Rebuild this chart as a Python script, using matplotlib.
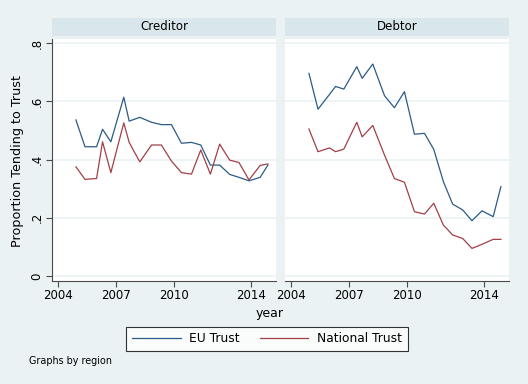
import matplotlib
matplotlib.use('Agg')
import matplotlib.pyplot as plt
from matplotlib.lines import Line2D

# survey dates (fractional year), shared by both regions
years = [2004.93, 2005.40, 2006.00, 2006.31, 2006.74, 2007.41, 2007.69, 2008.24,
         2008.85, 2009.36, 2009.88, 2010.40, 2010.92, 2011.40, 2011.90, 2012.38,
         2012.90, 2013.38, 2013.90, 2014.48, 2014.88]

creditor_eu = [0.536, 0.444, 0.444, 0.504, 0.461, 0.614, 0.532, 0.545, 0.528, 0.520,
               0.520, 0.456, 0.459, 0.450, 0.381, 0.381, 0.349, 0.339, 0.327, 0.339, 0.381]
creditor_nat = [0.375, 0.332, 0.335, 0.461, 0.355, 0.526, 0.459, 0.392, 0.450, 0.450,
                0.395, 0.355, 0.350, 0.433, 0.350, 0.453, 0.398, 0.390, 0.330, 0.380, 0.385]

debtor_eu = [0.696, 0.573, 0.624, 0.651, 0.642, 0.719, 0.679, 0.728, 0.619, 0.578,
             0.633, 0.487, 0.490, 0.435, 0.324, 0.247, 0.227, 0.190, 0.224, 0.204, 0.307]
debtor_nat = [0.505, 0.427, 0.440, 0.427, 0.436, 0.528, 0.478, 0.517, 0.415, 0.335,
              0.322, 0.221, 0.213, 0.250, 0.175, 0.141, 0.129, 0.095, 0.109, 0.126, 0.126]

panels = ['Creditor', 'Debtor']
xticks = [2004, 2007, 2010, 2014]
yticks = [0, 0.2, 0.4, 0.6, 0.8]
ytick_labels = ['0', '.2', '.4', '.6', '.8']

BG = '#EAF2F3'
STRIP = '#D9E6EB'
BLUE = '#2B5B86'
RED = '#A23F47'
AX = '#4A4A4A'

W, H = 528, 384
fig = plt.figure(figsize=(W / 100, H / 100), dpi=100, facecolor=BG)


def box(x0, y0, x1, y1):
    # pixel box (top-left origin) -> figure fraction rect
    return [x0 / W, 1 - y1 / H, (x1 - x0) / W, (y1 - y0) / H]


lefts = [(52, 276), (285, 509)]
data = [(creditor_eu, creditor_nat), (debtor_eu, debtor_nat)]

for i, (name, (x0, x1), (eu, nat)) in enumerate(zip(panels, lefts, data)):
    ax = fig.add_axes(box(x0, 39, x1, 281))
    ax.set_facecolor('white')
    for y in yticks:
        ax.axhline(y, color=BG, lw=1.2, zorder=0)
    ax.plot(years, eu, color=BLUE, lw=0.9)
    ax.plot(years, nat, color=RED, lw=0.9)
    ax.set_xlim(2003.69, 2015.30)
    ax.set_ylim(-0.017, 0.814)
    ax.set_xticks(xticks)
    ax.set_xticklabels([str(t) for t in xticks], fontsize=8.5)
    ax.set_yticks(yticks)
    for s in ['top', 'right']:
        ax.spines[s].set_visible(False)
    ax.spines['bottom'].set_color(AX)
    ax.tick_params(axis='x', length=4, width=0.8, color=AX, pad=2)
    if i == 0:
        ax.spines['left'].set_color(AX)
        ax.set_yticklabels(ytick_labels, fontsize=8.5, rotation=90, va='center')
        ax.tick_params(axis='y', length=4, width=0.8, color=AX, pad=2)
    else:
        ax.spines['left'].set_visible(False)
        ax.tick_params(axis='y', length=0, labelleft=False)

    # header strip
    sax = fig.add_axes(box(x0, 18, x1, 36))
    sax.set_facecolor(STRIP)
    sax.set_xticks([])
    sax.set_yticks([])
    for s in sax.spines.values():
        s.set_visible(False)
    sax.text(0.5, 0.5, name, ha='center', va='center', fontsize=8.5,
             transform=sax.transAxes)

fig.text(18 / W, 1 - 161 / H, 'Proportion Tending to Trust', rotation=90,
         ha='center', va='center', fontsize=9.2)
fig.text(270 / W, 1 - 314 / H, 'year', ha='center', va='center', fontsize=9)

handles = [Line2D([], [], color=BLUE, lw=0.9), Line2D([], [], color=RED, lw=0.9)]
leg = fig.legend(handles, ['EU Trust', 'National Trust'], ncol=2,
                 loc='center', bbox_to_anchor=(267 / W, 1 - 338.5 / H),
                 fontsize=8.8, frameon=True, fancybox=False, handlelength=4.0,
                 columnspacing=1.6, handletextpad=0.7, borderpad=0.45)
leg.get_frame().set_edgecolor('black')
leg.get_frame().set_linewidth(0.8)
leg.get_frame().set_facecolor('white')

fig.text(29 / W, 1 - 361.5 / H, 'Graphs by region', ha='left', va='center',
         fontsize=6.9)

fig.savefig('out.png', dpi=100, facecolor=BG)
